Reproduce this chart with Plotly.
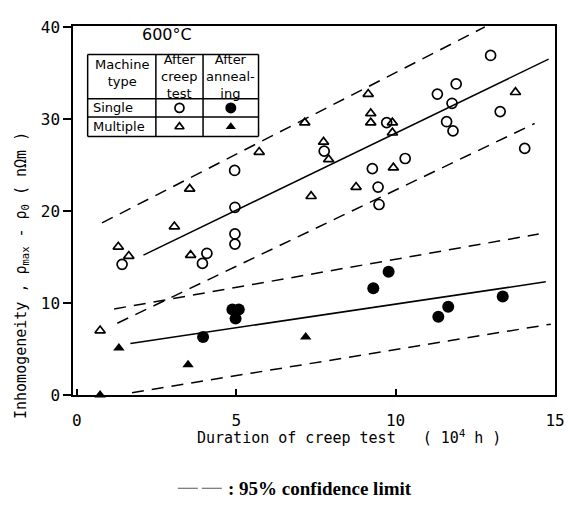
import plotly.graph_objects as go

# ---- data ----
single_creep_x = [1.42, 3.94, 4.08, 4.96, 4.96, 4.96, 4.95, 7.76, 9.27, 9.45, 9.48, 9.72, 10.3,
                  11.31, 11.6, 11.77, 11.8, 11.9, 12.98, 13.28, 14.05]
single_creep_y = [14.2, 14.3, 15.4, 20.4, 17.5, 16.4, 24.4, 26.5, 24.6, 22.6, 20.7, 29.6, 25.7,
                  32.7, 29.7, 31.7, 28.7, 33.8, 36.9, 30.8, 26.8]

multi_creep_x = [0.73, 1.3, 1.63, 3.06, 3.54, 3.57, 5.72, 7.15, 7.35, 7.74, 7.9, 8.76, 9.14,
                 9.22, 9.22, 9.9, 9.9, 9.93, 13.76]
multi_creep_y = [7.0, 16.1, 15.1, 18.3, 22.4, 15.2, 26.4, 29.6, 21.6, 27.5, 25.6, 22.6, 32.7,
                 30.6, 29.6, 29.6, 28.5, 24.7, 32.9]

single_anneal_x = [3.96, 4.88, 5.08, 4.98, 9.3, 9.78, 11.34, 11.65, 13.36]
single_anneal_y = [6.3, 9.3, 9.3, 8.3, 11.6, 13.4, 8.5, 9.6, 10.7]

multi_anneal_x = [0.73, 1.32, 3.49, 7.18]
multi_anneal_y = [0.0, 5.1, 3.3, 6.3]

# regression lines and 95% confidence limits (end points)
creep_fit_x, creep_fit_y = [2.09, 14.8], [15.2, 36.5]
creep_hi_x, creep_hi_y = [0.79, 12.8], [18.7, 40.0]
creep_lo_x, creep_lo_y = [1.27, 14.36], [7.8, 29.5]
anneal_fit_x, anneal_fit_y = [1.68, 14.71], [5.6, 12.3]
anneal_hi_x, anneal_hi_y = [1.17, 14.49], [9.35, 17.5]
anneal_lo_x, anneal_lo_y = [1.73, 14.87], [0.25, 7.7]

x_ticks = [0, 5, 10, 15]
y_ticks = [0, 10, 20, 30, 40]

# ---- figure ----
BLACK = "black"
FONT = "DejaVu Sans"
MONO = "DejaVu Sans Mono"
DASH = "12px,8px"

fig = go.Figure()

for xs, ys in [(creep_hi_x, creep_hi_y), (creep_lo_x, creep_lo_y),
               (anneal_hi_x, anneal_hi_y), (anneal_lo_x, anneal_lo_y)]:
    fig.add_trace(go.Scatter(x=xs, y=ys, mode="lines", showlegend=False,
                             line=dict(color=BLACK, width=1.5, dash=DASH)))
for xs, ys in [(creep_fit_x, creep_fit_y), (anneal_fit_x, anneal_fit_y)]:
    fig.add_trace(go.Scatter(x=xs, y=ys, mode="lines", showlegend=False,
                             line=dict(color=BLACK, width=1.5)))

fig.add_trace(go.Scatter(x=single_creep_x, y=single_creep_y, mode="markers", showlegend=False,
                         marker=dict(symbol="circle-open", size=10, color=BLACK, line=dict(width=1.7))))
fig.add_trace(go.Scatter(x=multi_creep_x, y=multi_creep_y, mode="markers", showlegend=False,
                         marker=dict(symbol="triangle-up-open", size=9, color=BLACK, line=dict(width=1.7))))
fig.add_trace(go.Scatter(x=single_anneal_x, y=single_anneal_y, mode="markers", showlegend=False,
                         marker=dict(symbol="circle", size=12, color=BLACK), cliponaxis=False))
fig.add_trace(go.Scatter(x=multi_anneal_x, y=multi_anneal_y, mode="markers", showlegend=False,
                         marker=dict(symbol="triangle-up", size=10, color=BLACK), cliponaxis=False))

# ---- legend table (in data units) ----
tl, tr = 0.34, 5.7
c1, c2 = 2.48, 3.96
t_top, t_h, t_r1, t_bot = 37.0, 32.2, 30.2, 28.1
for (x0, y0, x1, y1) in [(tl, t_top, tr, t_top), (tl, t_h, tr, t_h), (tl, t_r1, tr, t_r1),
                         (tl, t_bot, tr, t_bot), (tl, t_top, tl, t_bot), (tr, t_top, tr, t_bot),
                         (c1, t_top, c1, t_bot), (c2, t_top, c2, t_bot)]:
    fig.add_shape(type="line", xref="x", yref="y", x0=x0, y0=y0, x1=x1, y1=y1,
                  line=dict(color=BLACK, width=1.5))

mid_r1 = (t_h + t_r1) / 2
mid_r2 = (t_r1 + t_bot) / 2
col2 = (c1 + c2) / 2
col3 = (c2 + tr) / 2
fig.add_trace(go.Scatter(x=[col2], y=[mid_r1], mode="markers", showlegend=False,
                         marker=dict(symbol="circle-open", size=9, color=BLACK, line=dict(width=1.7))))
fig.add_trace(go.Scatter(x=[col3], y=[mid_r1], mode="markers", showlegend=False,
                         marker=dict(symbol="circle", size=11, color=BLACK)))
fig.add_trace(go.Scatter(x=[col2], y=[mid_r2], mode="markers", showlegend=False,
                         marker=dict(symbol="triangle-up-open", size=8, color=BLACK, line=dict(width=1.7))))
fig.add_trace(go.Scatter(x=[col3], y=[mid_r2], mode="markers", showlegend=False,
                         marker=dict(symbol="triangle-up", size=9, color=BLACK)))

tfont = dict(family=FONT, size=13, color=BLACK)
hmid = (t_top + t_h) / 2
annots = [
    dict(x=(tl + tr) / 2 - 0.2, y=39.2, text="600°C", font=dict(family=FONT, size=16, color=BLACK)),
    dict(x=(tl + c1) / 2, y=hmid + 0.4, text="Machine<br>type", font=tfont),
    dict(x=col2, y=hmid, text="After<br>creep<br>test", font=tfont),
    dict(x=col3, y=hmid, text="After<br>anneal-<br>ing", font=tfont),
    dict(x=tl + 0.12, y=mid_r1, text="Single", font=tfont, xanchor="left"),
    dict(x=tl + 0.12, y=mid_r2, text="Multiple", font=tfont, xanchor="left"),
]
for a in annots:
    a.setdefault("xanchor", "center")
    fig.add_annotation(xref="x", yref="y", showarrow=False, yanchor="middle", align="center", **a)

# axis titles placed as annotations (offset as in reference)
fig.add_annotation(xref="paper", yref="paper", x=0.254, y=-0.114, xanchor="left", yanchor="middle",
                   showarrow=False, text="Duration of creep test   ( 10<sup>4</sup> h )",
                   font=dict(family=MONO, size=15, color=BLACK))
fig.add_annotation(xref="paper", yref="paper", x=-0.108, y=0.325, xanchor="center", yanchor="middle",
                   textangle=-90, showarrow=False,
                   text="Inhomogeneity , ρ<sub>max</sub> - ρ<sub>0</sub> ( nΩm )",
                   font=dict(family=MONO, size=15, color=BLACK))

# footer: dashed sample + text
fig.add_shape(type="line", xref="paper", yref="paper", x0=0.2175, x1=0.313, y0=-0.2527, y1=-0.2527,
              line=dict(color="#555", width=1.2, dash="20px,4px"))
fig.add_annotation(xref="paper", yref="paper", x=0.318, y=-0.2527, xanchor="left", yanchor="middle",
                   showarrow=False, text=": 95% confidence limit",
                   font=dict(family="Liberation Serif", size=19, color=BLACK, weight="bold"))

fig.update_xaxes(range=[-0.12, 15.0], tickvals=x_ticks, ticktext=[str(v) for v in x_ticks],
                 showline=True, mirror=True, linecolor=BLACK, linewidth=1.5, showgrid=False,
                 zeroline=False, ticks="inside", ticklen=6, tickcolor=BLACK, tickwidth=1.5,
                 tickfont=dict(family=MONO, size=16, color=BLACK), ticklabelstandoff=10)
fig.update_yaxes(range=[0, 40.1], tickvals=y_ticks, ticktext=[str(v) for v in y_ticks],
                 showline=True, mirror=True, linecolor=BLACK, linewidth=1.5, showgrid=False,
                 zeroline=False, ticks="outside", ticklen=8, tickcolor=BLACK, tickwidth=1.5,
                 tickfont=dict(family=MONO, size=16, color=BLACK))

# page body adds an 8px offset, so the figure is 8px smaller and margins shifted
fig.update_layout(width=567, height=507, margin=dict(l=65, r=10, t=11, b=120),
                  paper_bgcolor="white", plot_bgcolor="white", showlegend=False)

fig.write_html("out.html")
